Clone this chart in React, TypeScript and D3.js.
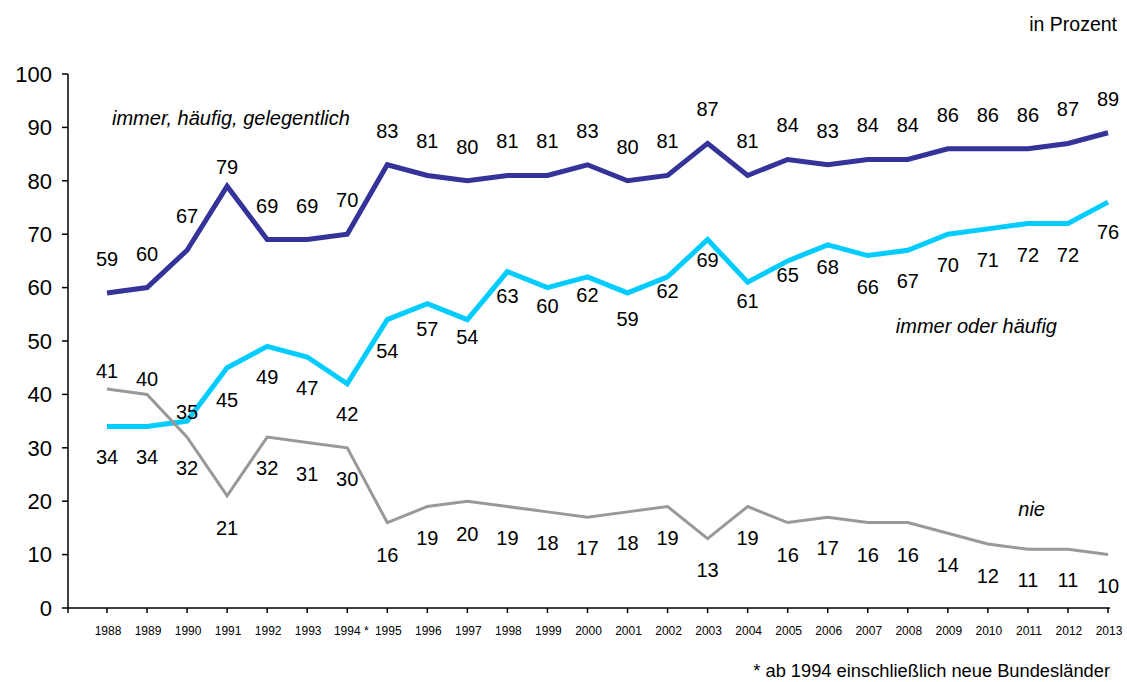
import React from "react";
import * as d3 from "d3";

const years = ["1988","1989","1990","1991","1992","1993","1994","1995","1996","1997","1998","1999","2000","2001","2002","2003","2004","2005","2006","2007","2008","2009","2010","2011","2012","2013"];
const tickLabels = ["1988","1989","1990","1991","1992","1993","1994 *","1995","1996","1997","1998","1999","2000","2001","2002","2003","2004","2005","2006","2007","2008","2009","2010","2011","2012","2013"];
const yTicks = [0, 10, 20, 30, 40, 50, 60, 70, 80, 90, 100];

const immerHaeufigGelegentlich = [59,60,67,79,69,69,70,83,81,80,81,81,83,80,81,87,81,84,83,84,84,86,86,86,87,89];
const immerOderHaeufig = [34,34,35,45,49,47,42,54,57,54,63,60,62,59,62,69,61,65,68,66,67,70,71,72,72,76];
const nie = [41,40,32,21,32,31,30,16,19,20,19,18,17,18,19,13,19,16,17,16,16,14,12,11,11,10];

// label placement (px offset of label centre from point)
const darkLabelDy = [-34,-34,-34,-19,-34,-34,-34,-34,-34,-34,-34,-34,-34,-34,-34,-34,-34,-34,-34,-34,-34,-34,-34,-34,-34,-34];
const cyanLabelDy = [31,31,-9,32,31,31,30,31,25,17,24,18,18,26,14,20,19,14,22,31,31,31,31,31,31,30];
const greyLabelDy = [-18,-15,31,32,31,32,31,32,31,33,31,31,31,31,31,31,31,32,31,32,32,32,32,31,31,31];

const FONT = "'Liberation Sans', Arial, sans-serif";

export default function App() {
  const W = 1127, H = 682;
  const x = d3.scalePoint<string>().domain(years).range([107, 1108]);
  const y = d3.scaleLinear().domain([0, 100]).range([608, 74]);
  const line = d3.line<number>().x((_, i) => x(years[i]) as number).y((d) => y(d));

  const series = [
    { data: immerHaeufigGelegentlich, color: "#333399", width: 5, dy: darkLabelDy },
    { data: immerOderHaeufig, color: "#00CCFF", width: 5, dy: cyanLabelDy },
    { data: nie, color: "#999999", width: 3, dy: greyLabelDy },
  ];

  return (
    <div style={{ position: "absolute", left: 0, top: 0 }}>
      <svg width={W} height={H} style={{ display: "block", background: "#fff" }} fontFamily={FONT}>
        {/* axes */}
        <line x1={68} x2={68} y1={y(100)} y2={613} stroke="#000" strokeWidth={1.5} />
        <line x1={68} x2={1110} y1={y(0)} y2={y(0)} stroke="#000" strokeWidth={1.5} />
        {yTicks.map((t) => (
          <g key={"y" + t}>
            <line x1={62} x2={68} y1={y(t)} y2={y(t)} stroke="#000" strokeWidth={1.5} />
            <text x={52} y={y(t)} dy="0.35em" textAnchor="end" fontSize={22} fill="#000">{t}</text>
          </g>
        ))}
        {years.map((yr, i) => (
          <g key={"x" + yr}>
            <line x1={x(yr)} x2={x(yr)} y1={y(0)} y2={613} stroke="#000" strokeWidth={1.5} />
            <text x={(x(yr) as number) + (i === 6 ? 4 : 1)} y={631} dy="0.35em" textAnchor="middle" fontSize={12} fill="#000">{tickLabels[i]}</text>
          </g>
        ))}
        {/* lines */}
        {series.map((s, k) => (
          <path key={"l" + k} d={line(s.data) || ""} fill="none" stroke={s.color} strokeWidth={s.width} strokeLinejoin="miter" />
        ))}
        {/* value labels */}
        {series.map((s, k) =>
          s.data.map((v, i) => (
            <text key={"v" + k + "-" + i} x={x(years[i])} y={y(v) + s.dy[i]} dy="0.35em" textAnchor="middle" fontSize={20} fill="#000">{v}</text>
          ))
        )}
        {/* series names */}
        <text x={112} y={118} dy="0.35em" fontSize={20} fontStyle="italic" fill="#000">immer, häufig, gelegentlich</text>
        <text x={1057} y={326} dy="0.35em" textAnchor="end" fontSize={20} fontStyle="italic" fill="#000">immer oder häufig</text>
        <text x={1045} y={509} dy="0.35em" textAnchor="end" fontSize={20} fontStyle="italic" fill="#000">nie</text>
        {/* unit & footnote */}
        <text x={1117} y={24} dy="0.35em" textAnchor="end" fontSize={19.5} fill="#000">in Prozent</text>
        <text x={1110} y={671} dy="0.35em" textAnchor="end" fontSize={18.3} fill="#000">* ab 1994 einschließlich neue Bundesländer</text>
      </svg>
    </div>
  );
}
